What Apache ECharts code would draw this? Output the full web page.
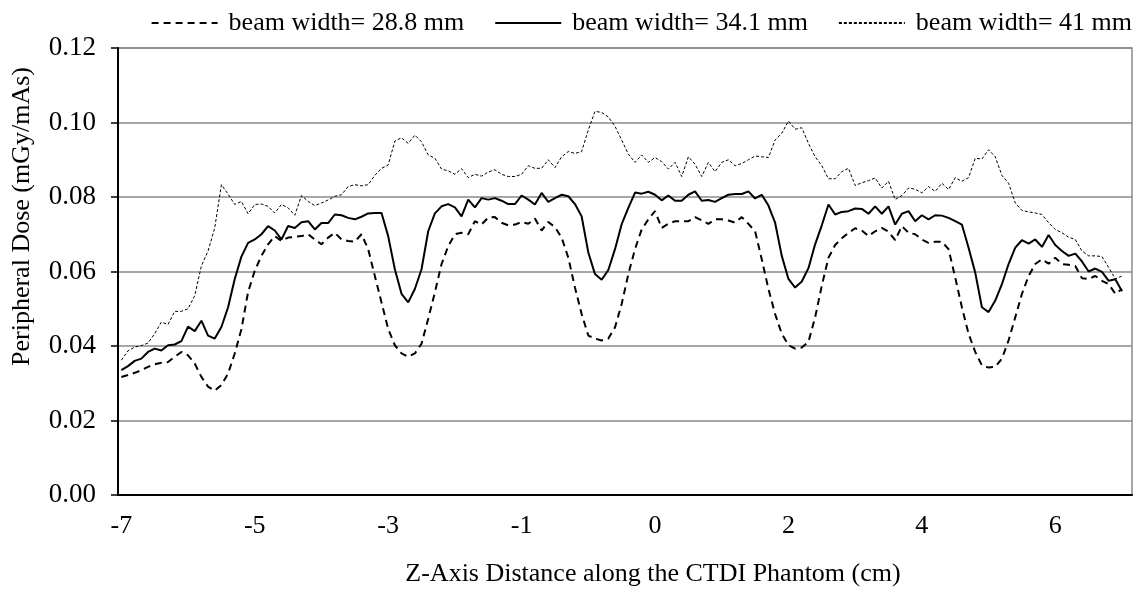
<!DOCTYPE html>
<html>
<head>
<meta charset="utf-8">
<script src="https://cdn.jsdelivr.net/npm/echarts@6/dist/echarts.min.js"></script>
<style>html,body{margin:0;padding:0;background:#fff}#c{width:1137px;height:592px}</style>
</head>
<body>
<div id="c"></div>
<script>
// x tick labels shown every 20 sample positions
const xTickLabels = ['-7','-5','-3','-1','0','2','4','6'];
const yTickValues = [0, 0.02, 0.04, 0.06, 0.08, 0.10, 0.12];
const seriesNames = ['beam width= 28.8 mm', 'beam width= 34.1 mm', 'beam width= 41 mm'];

const bw288 = [
.0317,.0322,.0328,.0335,.0344,.0351,.0355,.0357,.0371,.0384,
.0375,.0353,.0317,.0291,.0280,.0295,.0326,.0380,.0445,.0545,
.0602,.0642,.0673,.0695,.0682,.0691,.0693,.0695,.0700,.0686,
.0673,.0691,.0704,.0686,.0682,.0680,.0700,.0660,.0588,.0517,
.0446,.0402,.0380,.0371,.0380,.0406,.0473,.0544,.0620,.0668,
.0700,.0704,.0700,.0735,.0726,.0745,.0746,.0731,.0724,.0726,
.0733,.0728,.0742,.0710,.0733,.0719,.0691,.0637,.0557,.0486,
.0428,.0420,.0415,.0420,.0450,.0513,.0593,.0660,.0713,.0740,
.0762,.0717,.0728,.0735,.0735,.0735,.0746,.0737,.0728,.0740,
.0740,.0737,.0731,.0746,.0728,.0708,.0633,.0553,.0486,.0433,
.0402,.0393,.0396,.0411,.0477,.0562,.0637,.0671,.0689,.0704,
.0716,.0710,.0695,.0708,.0717,.0707,.0684,.0722,.0704,.0700,
.0686,.0677,.0680,.0680,.0660,.0584,.0504,.0433,.0384,.0348,
.0342,.0344,.0366,.0415,.0477,.0540,.0588,.0620,.0633,.0621,
.0637,.0620,.0618,.0615,.0582,.0580,.0588,.0575,.0566,.0540,
.0553];

const bw341 = [
.0335,.0346,.0360,.0366,.0384,.0393,.0388,.0402,.0404,.0413,
.0452,.0440,.0468,.0428,.0420,.0451,.0504,.0580,.0640,.0677,
.0686,.0700,.0722,.0710,.0686,.0722,.0717,.0732,.0735,.0713,
.0730,.0730,.0753,.0751,.0744,.0740,.0747,.0756,.0757,.0757,
.0695,.0606,.0540,.0517,.0553,.0606,.0708,.0756,.0775,.0781,
.0772,.0748,.0793,.0772,.0797,.0793,.0797,.0790,.0781,.0781,
.0804,.0793,.0780,.0811,.0787,.0797,.0806,.0802,.0781,.0748,
.0651,.0593,.0578,.0604,.0660,.0727,.0771,.0812,.0809,.0814,
.0806,.0791,.0804,.0790,.0790,.0806,.0815,.0790,.0792,.0787,
.0797,.0806,.0808,.0808,.0815,.0796,.0806,.0777,.0731,.0642,
.0580,.0557,.0573,.0609,.0673,.0724,.0780,.0753,.0760,.0762,
.0769,.0768,.0755,.0775,.0755,.0775,.0726,.0755,.0762,.0735,
.0751,.0740,.0751,.0750,.0744,.0735,.0726,.0664,.0597,.0504,
.0491,.0522,.0566,.0620,.0664,.0684,.0675,.0686,.0666,.0698,
.0671,.0655,.0642,.0648,.0627,.0600,.0608,.0599,.0575,.0579,
.0547];

const bw41 = [
.0362,.0387,.0397,.0401,.0408,.0433,.0464,.0458,.0493,.0493,
.0500,.0535,.0615,.0655,.0717,.0833,.0808,.0780,.0788,.0755,
.0780,.0781,.0775,.0757,.0780,.0771,.0751,.0804,.0788,.0777,
.0784,.0792,.0802,.0806,.0828,.0833,.0830,.0833,.0858,.0877,
.0886,.0950,.0959,.0944,.0966,.0948,.0913,.0904,.0875,.0870,
.0861,.0876,.0852,.0861,.0856,.0867,.0873,.0861,.0855,.0855,
.0861,.0884,.0877,.0877,.0900,.0879,.0908,.0922,.0917,.0922,
.0980,.1030,.1027,.1015,.0990,.0953,.0915,.0893,.0913,.0893,
.0906,.0895,.0875,.0893,.0855,.0908,.0888,.0855,.0893,.0868,
.0893,.0900,.0884,.0890,.0900,.0910,.0908,.0906,.0953,.0971,
.1004,.0982,.0986,.0944,.0908,.0884,.0849,.0849,.0868,.0877,
.0831,.0838,.0844,.0851,.0824,.0842,.0793,.0804,.0824,.0821,
.0811,.0828,.0815,.0837,.0820,.0852,.0842,.0852,.0904,.0902,
.0927,.0908,.0858,.0837,.0784,.0764,.0760,.0757,.0753,.0731,
.0713,.0704,.0692,.0686,.0655,.0642,.0642,.0640,.0611,.0580,
.0588];

const LABEL_STEP = 20;
const N_CAT = 152;
const categories = [];
for (let i = 0; i < N_CAT; i++) categories.push('p' + i);

const FONT = '"Liberation Serif", "Times New Roman", serif';
const chart = echarts.init(document.getElementById('c'), null, {renderer: 'canvas'});
chart.setOption({
  animation: false,
  backgroundColor: '#ffffff',
  textStyle: {fontFamily: FONT, color: '#000'},
  legend: {
    top: 5, right: 0,
    itemWidth: 66, itemHeight: 14, itemGap: 30,
    itemStyle: {opacity: 0},
    textStyle: {fontFamily: FONT, fontSize: 26, color: '#000', padding: [0, 0, 0, 6]},
    data: seriesNames
  },
  grid: {left: 118, right: 5, top: 48, bottom: 93, show: true, borderColor: '#8a8a8a', borderWidth: 1.5},
  xAxis: {
    type: 'category', data: categories, boundaryGap: true,
    axisLine: {lineStyle: {color: '#000', width: 2}},
    axisTick: {show: false},
    axisLabel: {interval: LABEL_STEP - 1, margin: 18, fontFamily: FONT, fontSize: 26, color: '#000',
      formatter: (v, idx) => xTickLabels[idx / LABEL_STEP]},
    splitLine: {show: false},
    name: 'Z-Axis Distance along the CTDI Phantom (cm)', nameLocation: 'middle', nameGap: 66,
    nameTextStyle: {fontFamily: FONT, fontSize: 26, color: '#000', padding: [0, 0, 0, 56]}
  },
  yAxis: {
    type: 'value', min: yTickValues[0], max: yTickValues[yTickValues.length - 1], interval: 0.02,
    axisLine: {show: true, lineStyle: {color: '#000', width: 2}},
    axisTick: {show: true, length: 7, lineStyle: {color: '#000', width: 1.5}},
    axisLabel: {margin: 22, fontFamily: FONT, fontSize: 27, color: '#000', formatter: v => v.toFixed(2)},
    splitLine: {lineStyle: {color: '#8a8a8a', width: 1.5}},
    name: 'Peripheral Dose (mGy/mAs)', nameLocation: 'middle', nameGap: 83, nameRotate: 90,
    nameTextStyle: {fontFamily: FONT, fontSize: 26, color: '#000', padding: [0, 0, 0, 110]}
  },
  series: [
    {name: seriesNames[0], type: 'line', data: bw288, symbol: 'none', lineStyle: {color: '#000', width: 2, type: [7, 5]}, itemStyle: {color: '#000'}},
    {name: seriesNames[1], type: 'line', data: bw341, symbol: 'none', lineStyle: {color: '#000', width: 2, type: 'solid'}, itemStyle: {color: '#000'}},
    {name: seriesNames[2], type: 'line', data: bw41, symbol: 'none', lineStyle: {color: '#000', width: 1, type: [3, 2]}, itemStyle: {color: '#000'}}
  ]
});
</script>
</body>
</html>
